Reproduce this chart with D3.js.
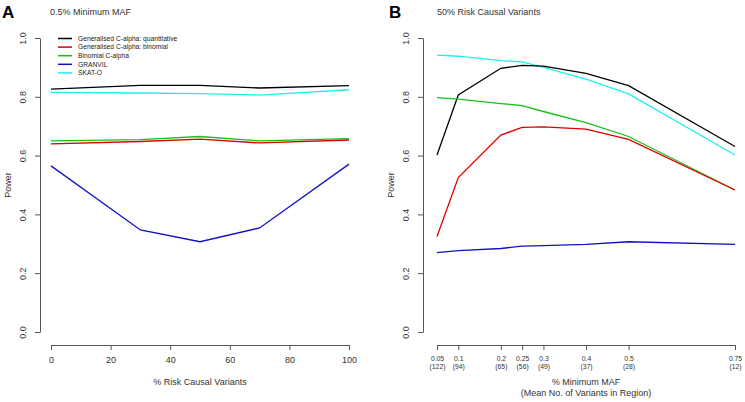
<!DOCTYPE html>
<html><head><meta charset="utf-8">
<script src="https://cdn.jsdelivr.net/npm/d3@7"></script>
<style>body{margin:0;background:#fff}svg{display:block;font-family:"Liberation Sans",Arial,Helvetica,sans-serif}</style>
</head><body><div id="c"></div>
<script>
const seriesNames = ["Generalised C-alpha: quantitative","Generalised C-alpha: binomial","Binomial C-alpha","GRANVIL","SKAT-O"];
const seriesColors = ["#000000","#e00000","#19c019","#1010c8","#22eeee"];
// Panel A
const riskPct = [0,30,50,70,100];
const powerA = [
  [0.826,0.839,0.839,0.830,0.838],
  [0.640,0.648,0.656,0.643,0.653],
  [0.650,0.654,0.665,0.650,0.658],
  [0.565,0.347,0.307,0.354,0.571],
  [0.815,0.813,0.811,0.806,0.824]
];
const xTicksA = [0,20,40,60,80,100];
// Panel B
const minMaf = [0.05,0.1,0.2,0.25,0.3,0.4,0.5,0.75];
const meanVariants = ["122","94","65","56","49","37","28","12"];
const powerB = [
  [0.602,0.806,0.897,0.907,0.904,0.880,0.838,0.631],
  [0.325,0.525,0.670,0.696,0.698,0.690,0.655,0.483],
  [0.797,0.792,0.777,0.770,0.750,0.712,0.665,0.483],
  [0.270,0.277,0.284,0.292,0.294,0.298,0.307,0.298],
  [0.942,0.938,0.923,0.919,0.900,0.860,0.810,0.602]
];
const yTicks = [0,0.2,0.4,0.6,0.8,1.0];

const W=745,H=402;
const svg=d3.select("#c").append("svg").attr("width",W).attr("height",H);
const axisCol="#555";

function panel(o){
  const g=svg.append("g");
  const x=d3.scaleLinear().domain(o.xdom).range(o.xr);
  const y=d3.scaleLinear().domain([0,1]).range([332,38]);
  // y axis
  const ya=g.append("g").attr("transform",`translate(${o.yx},0)`)
    .call(d3.axisLeft(y).tickValues(yTicks).tickSize(5).tickSizeOuter(0).tickFormat(d3.format(".1f")));
  ya.select(".domain").attr("stroke",axisCol);
  ya.selectAll(".tick line").attr("stroke",axisCol);
  ya.selectAll(".tick text").attr("font-size",9).attr("fill","#333")
    .attr("text-anchor","middle")
    .attr("transform","rotate(-90)").attr("x",0).attr("y",-17).attr("dy","0.35em");
  // x axis
  const xa=g.append("g").attr("transform","translate(0,345)")
    .call(d3.axisBottom(x).tickValues(o.xticks).tickSize(5).tickSizeOuter(0).tickFormat(o.xfmt||(d=>d)));
  xa.select(".domain").attr("stroke",axisCol);
  xa.selectAll(".tick line").attr("stroke",axisCol);
  xa.selectAll(".tick text").attr("font-size",o.xfs).attr("fill","#333").attr("y",o.sub?11:12);
  if(o.sub){
    xa.selectAll(".tick").append("text").attr("font-size",o.xfs).attr("fill","#333")
      .attr("y",19).attr("dy","0.71em").attr("text-anchor","middle")
      .text((d,i)=>"("+o.sub[i]+")");
  }
  // labels
  g.append("text").attr("transform",`translate(${o.px},185) rotate(-90)`).attr("text-anchor","middle")
    .attr("font-size",9).attr("fill","#333").attr("dy","0.35em").text("Power");
  o.xtitle.forEach((t,i)=>g.append("text").attr("x",(o.xr[0]+o.xr[1])/2).attr("y",385+i*11)
    .attr("text-anchor","middle").attr("font-size",9).attr("fill","#333").text(t));
  g.append("text").attr("x",o.lx).attr("y",18).attr("font-size",17).attr("font-weight","bold").text(o.letter);
  g.append("text").attr("x",o.tx).attr("y",15).attr("font-size",9).attr("fill","#333").text(o.title);
  // lines
  const line=d3.line().x((d,i)=>x(o.xs[i])).y(d=>y(d));
  const order=[4,0,2,1,3];
  order.forEach(k=>{
    g.append("path").attr("d",line(o.data[k])).attr("fill","none")
      .attr("stroke",seriesColors[k]).attr("stroke-width",1.3);
  });
}

panel({xdom:[0,100],xr:[51,349],yx:40,xs:riskPct,data:powerA,xticks:xTicksA,xfs:9,
  px:8,xtitle:["% Risk Causal Variants"],letter:"A",lx:2,tx:50,title:"0.5% Minimum MAF"});
panel({xdom:[0.05,0.75],xr:[437,735],yx:423,xs:minMaf,data:powerB,xticks:minMaf,xfs:6.8,
  xfmt:d=>String(d),sub:meanVariants,
  px:391,xtitle:["% Minimum MAF","(Mean No. of Variants in Region)"],letter:"B",lx:389,tx:437,title:"50% Risk Causal Variants"});

// legend
const lg=svg.append("g");
seriesNames.forEach((n,i)=>{
  const yy=38.5+i*8.6;
  lg.append("line").attr("x1",58).attr("x2",72).attr("y1",yy).attr("y2",yy)
    .attr("stroke",seriesColors[i]).attr("stroke-width",1.5);
  lg.append("text").attr("x",78).attr("y",yy).attr("dy","0.35em").attr("font-size",6.7)
    .attr("fill","#222").text(n);
});
</script></body></html>
